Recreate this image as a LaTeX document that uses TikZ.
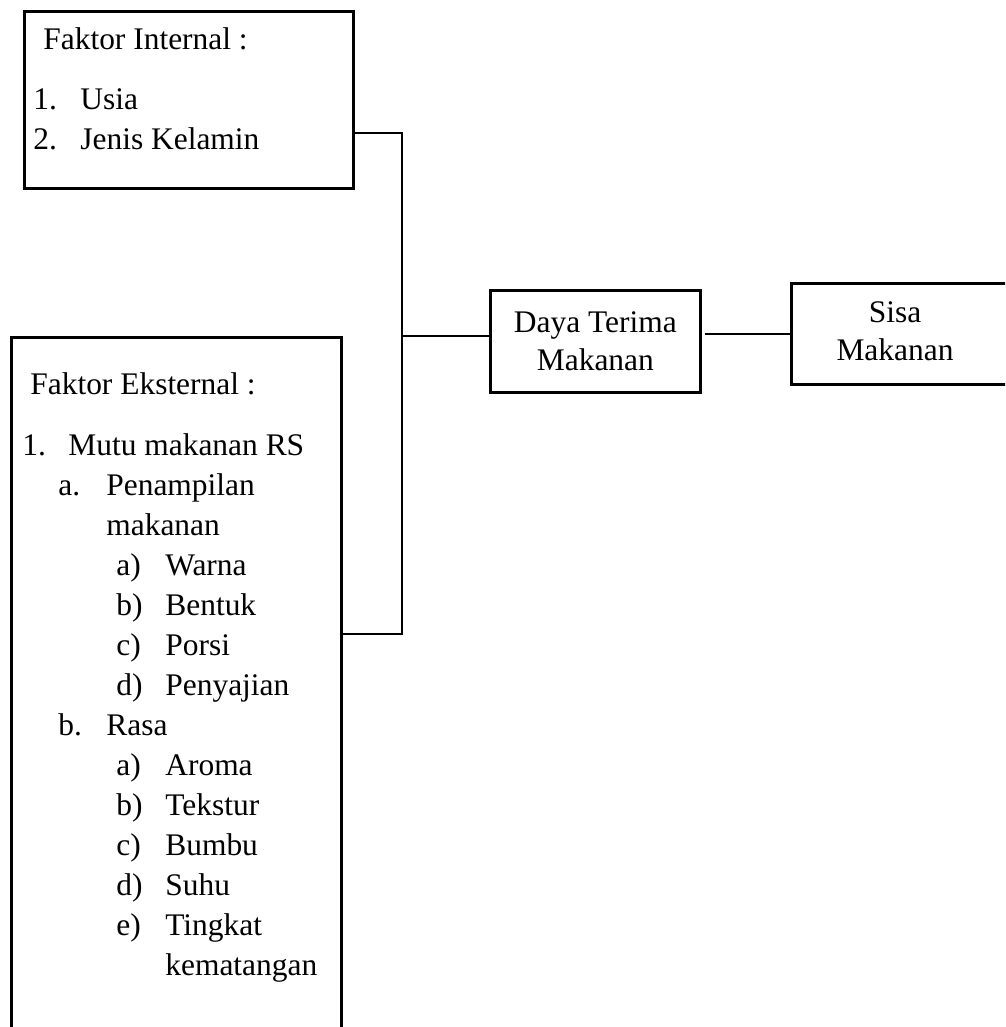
\documentclass[tikz,border=0pt]{standalone}
\usepackage{fontspec}
\setmainfont{Liberation Serif}
\usepackage{tikz}
\usetikzlibrary{positioning, calc}

\begin{document}
\begin{tikzpicture}[x=0.02cm, y=-0.02cm, font=\fontsize{17.9}{23}\selectfont,
  box/.style={draw, line width=1.6pt, inner sep=0pt, anchor=north west},
  txt/.style={anchor=base west, inner sep=0pt},
  link/.style={line width=1.3pt}]
  \clip (0,0) rectangle (1005,1027);

  % boxes
  \node[box, minimum width=6.58cm, minimum height=3.54cm] (intern) at (23,10) {};
  \node[box, minimum width=6.6cm, minimum height=15.28cm] (ekstern) at (10,336) {};
  \node[box, minimum width=4.2cm, minimum height=2.04cm, align=center,
        font=\fontsize{17.9}{21.5}\selectfont] (daya) at (489,289) {Daya Terima\\Makanan};
  \node[box, minimum width=4.6cm, minimum height=2.02cm] (sisa) at (790,282) {};
  \node[align=center, font=\fontsize{17.9}{21.5}\selectfont] (sisatxt) at (895,331) {Sisa\\Makanan};

  % internal factors
  \node[txt] (inhead) at (43,50) {Faktor Internal :};
  \node[txt] (innum1) at (33,110) {1.};
  \node[txt] (inusia) at (80,110) {Usia};
  \node[txt] (innum2) at (33,150) {2.};
  \node[txt] (injk) at (80,150) {Jenis Kelamin};

  % external factors
  \node[txt] (exhead) at (30,394) {Faktor Eksternal :};
  \foreach \xa/\xb/\y/\num/\entry [count=\i] in {
    22/68/455/1./Mutu makanan RS,
    58/106/495/a./Penampilan,
    58/106/535//makanan,
    116/165/575/a)/Warna,
    116/165/615/b)/Bentuk,
    116/165/655/c)/Porsi,
    116/165/695/d)/Penyajian,
    58/106/735/b./Rasa,
    116/165/775/a)/Aroma,
    116/165/815/b)/Tekstur,
    116/165/855/c)/Bumbu,
    116/165/895/d)/Suhu,
    116/165/935/e)/Tingkat,
    116/165/975//kematangan}{
    \node[txt] (exnum\i) at (\xa,\y) {\num};
    \node[txt] (exitem\i) at (\xb,\y) {\entry};
  }

  % connectors
  \coordinate (jtop) at (402,133);
  \coordinate (jmid) at (402,336);
  \coordinate (jbot) at (402,634);
  \draw[link] (intern.east |- jtop) -- (jtop) -- (jbot) -- (ekstern.east |- jbot);
  \draw[link] (jmid) -- (daya.west |- jmid);
  \draw[link, shorten <=2pt] (daya.east |- sisa.west) -- (sisa.west);
\end{tikzpicture}
\end{document}
